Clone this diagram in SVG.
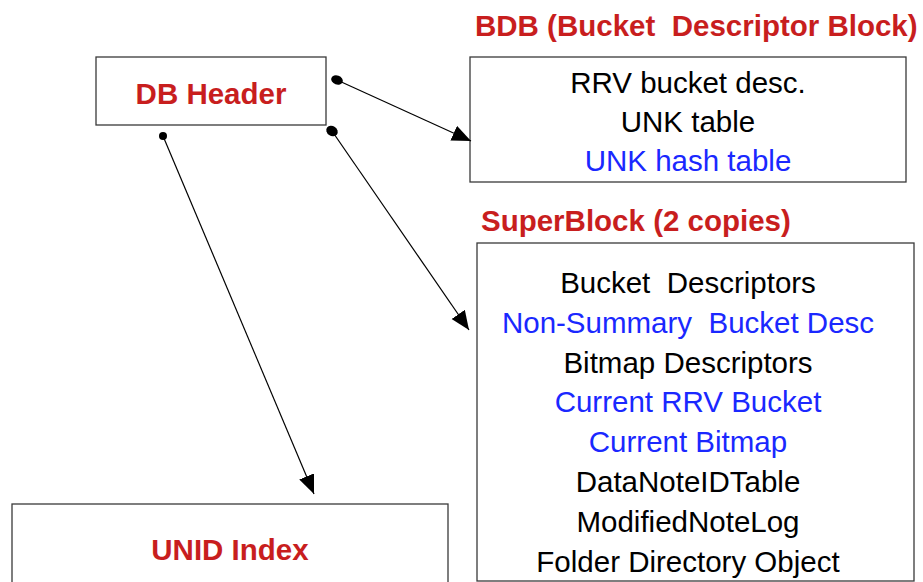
<svg xmlns="http://www.w3.org/2000/svg" width="923" height="582" viewBox="0 0 923 582">
  <style>
    .box { fill: #ffffff; stroke: #3a3a3a; stroke-width: 1.3; }
    .title { font-family: "Liberation Sans", Arial, sans-serif; font-size: 29.5px; font-weight: bold; fill: #c81e1e; }
    .item { font-family: "Liberation Sans", Arial, sans-serif; font-size: 29.5px; fill: #000000; text-anchor: middle; }
    .blue { fill: #1a28ff; }
    .conn { stroke: #000000; stroke-width: 1.2; fill: none; marker-end: url(#arrow); }
    .dot { fill: #000000; }
  </style>
  <defs>
    <marker id="arrow" markerUnits="userSpaceOnUse" markerWidth="22" markerHeight="18" refX="19" refY="8" orient="auto">
      <path d="M0,0 L19,8 L0,16 Z" fill="#000000"/>
    </marker>
  </defs>

  <rect width="923" height="582" fill="#ffffff"/>

  <g id="db-header">
    <rect class="box" x="96" y="57" width="230" height="68"/>
    <text class="title" x="211" y="104" text-anchor="middle">DB Header</text>
  </g>

  <g id="bdb">
    <text class="title" x="475" y="36" xml:space="preserve">BDB (Bucket  Descriptor Block)</text>
    <rect class="box" x="470" y="57" width="436" height="125"/>
    <text class="item" x="688" y="93">RRV bucket desc.</text>
    <text class="item" x="688" y="132">UNK table</text>
    <text class="item blue" x="688" y="171">UNK hash table</text>
  </g>

  <g id="superblock">
    <text class="title" x="481" y="231">SuperBlock (2 copies)</text>
    <rect class="box" x="477" y="243" width="437" height="338"/>
    <text class="item" x="688" y="293" xml:space="preserve">Bucket  Descriptors</text>
    <text class="item blue" x="688" y="333" xml:space="preserve">Non-Summary  Bucket Desc</text>
    <text class="item" x="688" y="373">Bitmap Descriptors</text>
    <text class="item blue" x="688" y="412">Current RRV Bucket</text>
    <text class="item blue" x="688" y="452">Current Bitmap</text>
    <text class="item" x="688" y="492">DataNoteIDTable</text>
    <text class="item" x="688" y="532">ModifiedNoteLog</text>
    <text class="item" x="688" y="572">Folder Directory Object</text>
  </g>

  <g id="unid-index">
    <rect class="box" x="12" y="504" width="436" height="90"/>
    <text class="title" x="230" y="560" text-anchor="middle">UNID Index</text>
  </g>

  <g id="connectors">
    <line class="conn" x1="337" y1="80" x2="471" y2="141"/>
    <ellipse class="dot" cx="337" cy="80" rx="6" ry="4.5" transform="rotate(20 337 80)"/>
    <line class="conn" x1="332" y1="131" x2="469" y2="330"/>
    <ellipse class="dot" cx="332" cy="131" rx="6" ry="5" transform="rotate(35 332 131)"/>
    <line class="conn" x1="163" y1="136" x2="314" y2="494"/>
    <circle class="dot" cx="163" cy="136" r="4"/>
  </g>
</svg>
